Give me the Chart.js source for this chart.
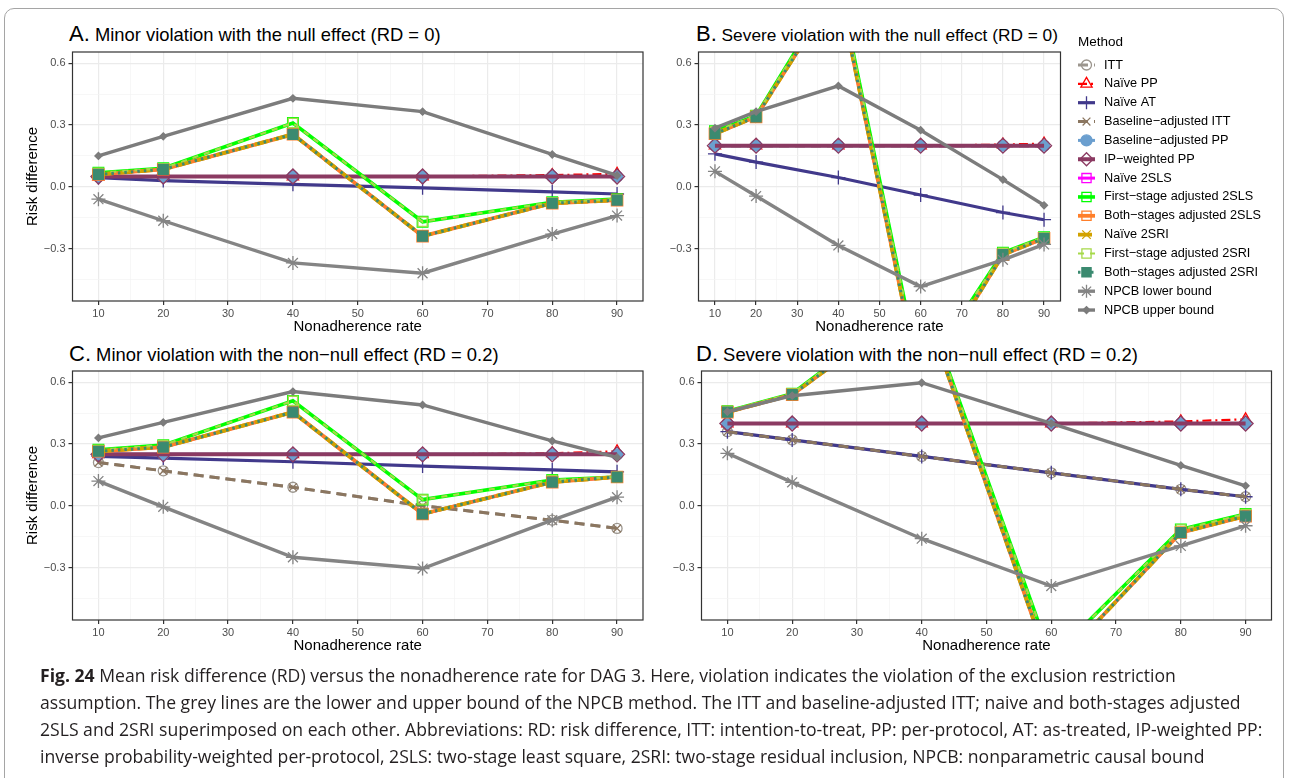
<!DOCTYPE html>
<html>
<head>
<meta charset="utf-8">
<script src="https://cdn.jsdelivr.net/npm/chart.js@4.4.1/dist/chart.umd.min.js"></script>
<style>
    body { margin: 0; background: #fff; width: 1289px; height: 778px; overflow: hidden; position: relative; font-family: 'Liberation Sans', Arial, sans-serif; }
    #frame { position: absolute; left: 4px; top: 8px; width: 1278px; height: 820px; border: 1.5px solid #a5a5a5; border-radius: 10px 10px 0 0; }
    canvas { position: absolute; }
    .ptitle { position: absolute; font-size: 18.4px; color: #000; white-space: nowrap; line-height: 22px; }
    .ptitle .lab { font-size: 22px; }
    #caption { position: absolute; left: 40px; top: 662px; font-family: 'Open Sans', sans-serif; font-size: 17.6px; line-height: 27px; color: #231f20; white-space: nowrap; }
    #caption b { font-weight: 700; }
</style>
</head>
<body>
<div id="frame"></div>

<div class="ptitle" style="left:69px; top:23px;"><span class="lab">A.</span> Minor violation with the null effect (RD = 0)</div>
<div class="ptitle" style="left:696px; top:23px; font-size:17.3px;"><span class="lab">B.</span> Severe violation with the null effect (RD = 0)</div>
<div class="ptitle" style="left:69px; top:343px;"><span class="lab">C.</span> Minor violation with the non−null effect (RD = 0.2)</div>
<div class="ptitle" style="left:696px; top:343px;"><span class="lab">D.</span> Severe violation with the non−null effect (RD = 0.2)</div>

<canvas id="chartA" width="660" height="325" style="left:0px; top:20px;"></canvas>
<canvas id="chartB" width="629" height="325" style="left:660px; top:20px;"></canvas>
<canvas id="chartC" width="660" height="320" style="left:0px; top:345px;"></canvas>
<canvas id="chartD" width="629" height="320" style="left:660px; top:345px;"></canvas>

<div id="caption">
    <div><b>Fig. 24</b> Mean risk difference (RD) versus the nonadherence rate for DAG 3. Here, violation indicates the violation of the exclusion restriction</div>
    <div>assumption. The grey lines are the lower and upper bound of the NPCB method. The ITT and baseline-adjusted ITT; naive and both-stages adjusted</div>
    <div>2SLS and 2SRI superimposed on each other. Abbreviations: RD: risk difference, ITT: intention-to-treat, PP: per-protocol, AT: as-treated, IP-weighted PP:</div>
    <div>inverse probability-weighted per-protocol, 2SLS: two-stage least square, 2SRI: two-stage residual inclusion, NPCB: nonparametric causal bound</div>
</div>

<script>
// оси
const nonadherence = [10, 20, 40, 60, 80, 90];
const xTicks = [10, 15, 20, 25, 30, 35, 40, 45, 50, 55, 60, 65, 70, 75, 80, 85, 90];
const xMajor = [10, 20, 30, 40, 50, 60, 70, 80, 90];
const yTicks = [-0.45, -0.3, -0.15, 0, 0.15, 0.3, 0.45, 0.6];
const yMajor = [-0.3, 0, 0.3, 0.6];
const yTickLabels = ['−0.3', '0.0', '0.3', '0.6'];

const methods = [
    'ITT', 'Naïve PP', 'Naïve AT', 'Baseline−adjusted ITT', 'Baseline−adjusted PP',
    'IP−weighted PP', 'Naïve 2SLS', 'First−stage adjusted 2SLS', 'Both−stages adjusted 2SLS',
    'Naïve 2SRI', 'First−stage adjusted 2SRI', 'Both−stages adjusted 2SRI',
    'NPCB lower bound', 'NPCB upper bound'
];

// A. Minor violation, null effect
const A_itt        = [0.05, 0.05, 0.05, 0.05, 0.05, 0.05];
const A_naivePP    = [0.05, 0.05, 0.05, 0.05, 0.057, 0.063];
const A_naiveAT    = [0.045, 0.03, 0.012, -0.005, -0.025, -0.035];
const A_baITT      = [0.05, 0.05, 0.05, 0.05, 0.05, 0.05];
const A_baPP       = [0.05, 0.05, 0.05, 0.05, 0.05, 0.05];
const A_ipwPP      = [0.05, 0.05, 0.05, 0.05, 0.05, 0.05];
const A_naive2SLS  = [0.06, 0.085, 0.255, -0.24, -0.08, -0.065];
const A_fs2SLS     = [0.068, 0.09, 0.31, -0.17, -0.075, -0.06];
const A_bs2SLS     = [0.06, 0.085, 0.255, -0.24, -0.08, -0.065];
const A_naive2SRI  = [0.06, 0.085, 0.255, -0.24, -0.08, -0.065];
const A_fs2SRI     = [0.068, 0.09, 0.31, -0.17, -0.075, -0.06];
const A_bs2SRI     = [0.06, 0.085, 0.255, -0.24, -0.08, -0.065];
const A_npcbLower  = [-0.06, -0.165, -0.37, -0.42, -0.23, -0.14];
const A_npcbUpper  = [0.15, 0.245, 0.43, 0.365, 0.157, 0.055];

// B. Severe violation, null effect
const B_itt        = [0.2, 0.2, 0.2, 0.2, 0.2, 0.2];
const B_naivePP    = [0.2, 0.2, 0.2, 0.2, 0.205, 0.21];
const B_naiveAT    = [0.16, 0.12, 0.045, -0.04, -0.125, -0.16];
const B_baITT      = [0.2, 0.2, 0.2, 0.2, 0.2, 0.2];
const B_baPP       = [0.2, 0.2, 0.2, 0.2, 0.2, 0.2];
const B_ipwPP      = [0.2, 0.2, 0.2, 0.2, 0.2, 0.2];
const B_naive2SLS  = [0.258, 0.34, 0.97, -0.98, -0.33, -0.25];
const B_fs2SLS     = [0.27, 0.345, 1.0, -0.93, -0.32, -0.245];
const B_bs2SLS     = [0.258, 0.34, 0.97, -0.98, -0.33, -0.25];
const B_naive2SRI  = [0.258, 0.34, 0.97, -0.98, -0.33, -0.25];
const B_fs2SRI     = [0.27, 0.345, 1.0, -0.93, -0.32, -0.245];
const B_bs2SRI     = [0.258, 0.34, 0.97, -0.98, -0.33, -0.25];
const B_npcbLower  = [0.075, -0.045, -0.285, -0.485, -0.355, -0.28];
const B_npcbUpper  = [0.285, 0.365, 0.49, 0.275, 0.035, -0.09];

// C. Minor violation, non-null effect
const C_itt        = [0.21, 0.17, 0.09, 0.0, -0.07, -0.11];
const C_naivePP    = [0.25, 0.25, 0.25, 0.25, 0.255, 0.265];
const C_naiveAT    = [0.24, 0.232, 0.214, 0.193, 0.175, 0.165];
const C_baITT      = [0.21, 0.17, 0.09, 0.0, -0.07, -0.11];
const C_baPP       = [0.25, 0.25, 0.25, 0.25, 0.25, 0.25];
const C_ipwPP      = [0.25, 0.25, 0.25, 0.25, 0.25, 0.25];
const C_naive2SLS  = [0.265, 0.285, 0.455, -0.04, 0.115, 0.14];
const C_fs2SLS     = [0.272, 0.295, 0.51, 0.03, 0.125, 0.14];
const C_bs2SLS     = [0.265, 0.285, 0.455, -0.04, 0.115, 0.14];
const C_naive2SRI  = [0.265, 0.285, 0.455, -0.04, 0.115, 0.14];
const C_fs2SRI     = [0.272, 0.295, 0.51, 0.03, 0.125, 0.14];
const C_bs2SRI     = [0.265, 0.285, 0.455, -0.04, 0.115, 0.14];
const C_npcbLower  = [0.12, -0.005, -0.25, -0.305, -0.07, 0.042];
const C_npcbUpper  = [0.33, 0.405, 0.555, 0.49, 0.315, 0.235];

// D. Severe violation, non-null effect
const D_itt        = [0.36, 0.32, 0.24, 0.16, 0.08, 0.044];
const D_naivePP    = [0.4, 0.4, 0.4, 0.4, 0.41, 0.42];
const D_naiveAT    = [0.36, 0.32, 0.24, 0.16, 0.08, 0.044];
const D_baITT      = [0.36, 0.32, 0.24, 0.16, 0.08, 0.044];
const D_baPP       = [0.4, 0.4, 0.4, 0.4, 0.4, 0.4];
const D_ipwPP      = [0.4, 0.4, 0.4, 0.4, 0.4, 0.4];
const D_naive2SLS  = [0.455, 0.54, 1.0, -0.8, -0.13, -0.05];
const D_fs2SLS     = [0.46, 0.545, 1.02, -0.74, -0.115, -0.04];
const D_bs2SLS     = [0.455, 0.54, 1.0, -0.8, -0.13, -0.05];
const D_naive2SRI  = [0.455, 0.54, 1.0, -0.8, -0.13, -0.05];
const D_fs2SRI     = [0.46, 0.545, 1.02, -0.74, -0.115, -0.04];
const D_bs2SRI     = [0.455, 0.54, 1.0, -0.8, -0.13, -0.05];
const D_npcbLower  = [0.255, 0.114, -0.16, -0.39, -0.195, -0.097];
const D_npcbUpper  = [0.457, 0.535, 0.598, 0.40, 0.196, 0.097];

// стили линий и маркеров по методам (в порядке methods)
const styles = [
    { color: '#9c968e', width: 3,   dash: [10, 6],       point: 'circle',   radius: 5,   fill: null },
    { color: '#ff0000', width: 2.2, dash: [9, 4, 2, 4],  point: 'triangle', radius: 6.5, fill: null },
    { color: '#41398b', width: 3.2, dash: [],            point: 'cross',    radius: 7,   fill: null },
    { color: '#8b7660', width: 3,   dash: [10, 6],       point: 'crossRot', radius: 5.5, fill: null },
    { color: '#6b9fcf', width: 3,   dash: [],            point: 'circle',   radius: 5.5, fill: '#6b9fcf' },
    { color: '#8b3a62', width: 4,   dash: [],            point: 'rectRot',  radius: 7.5, fill: null },
    { color: '#ff00ff', width: 3,   dash: [],            point: 'rect',     radius: 7,   fill: null },
    { color: '#00ff00', width: 3.6, dash: [],            point: 'rect',     radius: 7.5, fill: null },
    { color: '#ff7f2a', width: 3.8, dash: [],            point: 'rect',     radius: 8,   fill: null },
    { color: '#d2a200', width: 3.8, dash: [14, 6],       point: 'crossRot', radius: 6,   fill: null },
    { color: '#a6d94a', width: 2.2, dash: [6, 6],        point: 'rect',     radius: 6.5, fill: null },
    { color: '#3b8a70', width: 3,   dash: [2.5, 4],      point: 'rect',     radius: 7,   fill: '#3b8a70' },
    { color: '#848484', width: 3.4, dash: [],            point: 'star',     radius: 7,   fill: null },
    { color: '#7c7c7c', width: 3.4, dash: [],            point: 'rectRot',  radius: 3.5, fill: '#7c7c7c' }
];

const near = (v, list) => list.some(m => Math.abs(m - v) < 1e-9);

// рамка панели как в theme_bw
const panelBorder = {
    id: 'panelBorder',
    afterDatasetsDraw(chart) {
        const a = chart.chartArea;
        const ctx = chart.ctx;
        ctx.save();
        ctx.strokeStyle = '#333333';
        ctx.lineWidth = 1.2;
        ctx.strokeRect(a.left, a.top, a.right - a.left, a.bottom - a.top);
        ctx.restore();
    }
};

// легенда справа от панели B
const methodLegend = {
    id: 'methodLegend',
    afterDraw(chart) {
        const ctx = chart.ctx;
        const x0 = 418, x1 = 435, tx = 444;
        ctx.save();
        ctx.fillStyle = '#000';
        ctx.font = "13.5px 'Liberation Sans', Arial, sans-serif";
        ctx.textBaseline = 'middle';
        ctx.fillText('Method', x0, 22);
        chart.data.datasets.forEach((ds, i) => {
            const y = 45 + i * 18.85;
            const st = styles[i];
            ctx.save();
            ctx.strokeStyle = st.color;
            ctx.lineWidth = st.width;
            ctx.setLineDash(st.dash);
            ctx.beginPath();
            ctx.moveTo(x0, y);
            ctx.lineTo(x1, y);
            ctx.stroke();
            ctx.setLineDash([]);
            ctx.fillStyle = st.fill || 'rgba(0,0,0,0)';
            ctx.lineWidth = 1.3;
            Chart.helpers.drawPoint(ctx, { pointStyle: st.point, rotation: 0, radius: Math.min(st.radius, 6.5), borderWidth: 1.3 }, (x0 + x1) / 2, y);
            ctx.restore();
            ctx.fillStyle = '#000';
            ctx.font = "12.7px 'Liberation Sans', Arial, sans-serif";
            ctx.fillText(ds.label, tx, y);
        });
        ctx.restore();
    }
};

Chart.defaults.font.family = "'Liberation Sans', Arial, sans-serif";

function makePanel(id, series, pad, yWidth, yTitle, withLegend) {
    const ctx = document.getElementById(id).getContext('2d');
    return new Chart(ctx, {
        type: 'line',
        data: {
            datasets: series.map((vals, i) => ({
                label: methods[i],
                data: vals.map((v, j) => ({ x: nonadherence[j], y: v })),
                borderColor: styles[i].color,
                borderWidth: styles[i].width,
                borderDash: styles[i].dash,
                pointStyle: styles[i].point,
                pointRadius: styles[i].radius,
                pointBorderColor: styles[i].color,
                pointBackgroundColor: styles[i].fill || 'rgba(0,0,0,0)',
                pointBorderWidth: 1.3,
                tension: 0,
                fill: false,
                clip: 0,
                order: series.length - i
            }))
        },
        options: {
            responsive: false,
            animation: false,
            events: [],
            layout: { padding: pad },
            plugins: {
                legend: { display: false },
                tooltip: { enabled: false }
            },
            scales: {
                x: {
                    type: 'linear',
                    min: 6,
                    max: 94,
                    afterBuildTicks: s => { s.ticks = xTicks.map(v => ({ value: v })); },
                    afterFit: s => { s.height = 36; },
                    ticks: {
                        autoSkip: false,
                        maxRotation: 0,
                        color: '#4d4d4d',
                        font: { size: 11 },
                        padding: 2,
                        callback: v => near(v, xMajor) ? String(v) : ''
                    },
                    grid: {
                        color: c => near(c.tick.value, xMajor) ? '#ebebeb' : '#f4f4f4',
                        lineWidth: c => near(c.tick.value, xMajor) ? 1.2 : 0.7,
                        tickColor: c => near(c.tick.value, xMajor) ? '#333' : 'rgba(0,0,0,0)',
                        tickLength: 4
                    },
                    border: { display: false },
                    title: {
                        display: true,
                        text: 'Nonadherence rate',
                        color: '#000',
                        font: { size: 15 },
                        padding: { top: 0, bottom: 1.5 }
                    }
                },
                y: {
                    type: 'linear',
                    min: -0.555,
                    max: 0.655,
                    afterBuildTicks: s => { s.ticks = yTicks.map(v => ({ value: v })); },
                    afterFit: s => { s.width = yWidth; },
                    ticks: {
                        color: '#4d4d4d',
                        font: { size: 11 },
                        padding: 3,
                        callback: v => {
                            const k = yMajor.findIndex(m => Math.abs(m - v) < 1e-9);
                            return k >= 0 ? yTickLabels[k] : '';
                        }
                    },
                    grid: {
                        color: c => near(c.tick.value, yMajor) ? '#ebebeb' : '#f4f4f4',
                        lineWidth: c => near(c.tick.value, yMajor) ? 1.2 : 0.7,
                        tickColor: c => near(c.tick.value, yMajor) ? '#333' : 'rgba(0,0,0,0)',
                        tickLength: 4
                    },
                    border: { display: false },
                    title: {
                        display: yTitle,
                        text: 'Risk difference',
                        color: '#000',
                        font: { size: 15 },
                        padding: { top: 6, bottom: 0 }
                    }
                }
            }
        },
        plugins: withLegend ? [panelBorder, methodLegend] : [panelBorder]
    });
}

makePanel('chartA',
    [A_itt, A_naivePP, A_naiveAT, A_baITT, A_baPP, A_ipwPP, A_naive2SLS, A_fs2SLS, A_bs2SLS, A_naive2SRI, A_fs2SRI, A_bs2SRI, A_npcbLower, A_npcbUpper],
    { left: 18, right: 17, top: 32, bottom: 8 }, 54.5, true, false);
makePanel('chartB',
    [B_itt, B_naivePP, B_naiveAT, B_baITT, B_baPP, B_ipwPP, B_naive2SLS, B_fs2SLS, B_bs2SLS, B_naive2SRI, B_fs2SRI, B_bs2SRI, B_npcbLower, B_npcbUpper],
    { left: 0, right: 228.5, top: 32, bottom: 8 }, 38.5, false, true);
makePanel('chartC',
    [C_itt, C_naivePP, C_naiveAT, C_baITT, C_baPP, C_ipwPP, C_naive2SLS, C_fs2SLS, C_bs2SLS, C_naive2SRI, C_fs2SRI, C_bs2SRI, C_npcbLower, C_npcbUpper],
    { left: 18, right: 17, top: 26, bottom: 9 }, 54.5, true, false);
makePanel('chartD',
    [D_itt, D_naivePP, D_naiveAT, D_baITT, D_baPP, D_ipwPP, D_naive2SLS, D_fs2SLS, D_bs2SLS, D_naive2SRI, D_fs2SRI, D_bs2SRI, D_npcbLower, D_npcbUpper],
    { left: 0, right: 17.5, top: 26, bottom: 9 }, 41.5, false, false);
</script>
</body>
</html>
